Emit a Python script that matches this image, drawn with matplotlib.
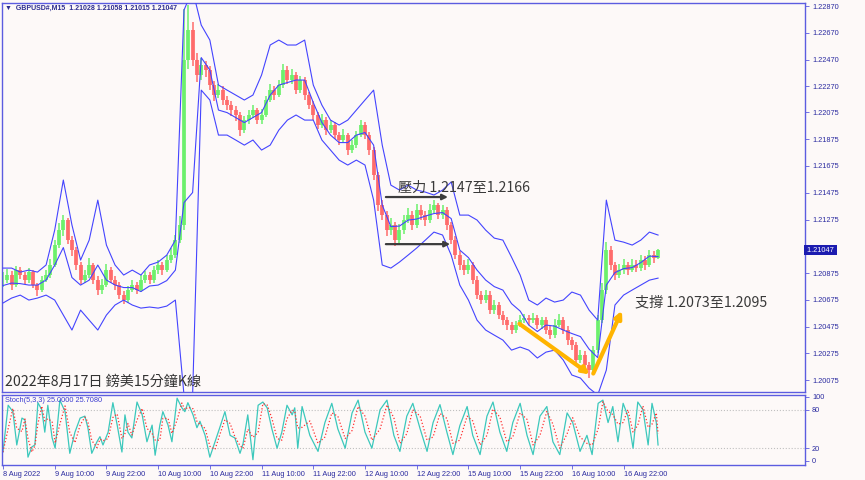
import numpy as np
import pandas as pd
import matplotlib
matplotlib.use('Agg')
import matplotlib.pyplot as plt

plt.rcParams['font.family'] = ['Noto Sans CJK TC', 'DejaVu Sans']

# hourly bars, GBPUSD M15 chart, x = trading hours since 8 Aug 22:00
closes = [1.20822, 1.20860, 1.20785, 1.20897, 1.20860, 1.20822, 1.20882, 1.20785, 1.20748, 1.20822,
          1.20860, 1.20935, 1.21084, 1.21196, 1.21271, 1.21121, 1.21047, 1.20935, 1.20822, 1.20860,
          1.20935, 1.20822, 1.20748, 1.20785, 1.20897, 1.20822, 1.20785, 1.20710, 1.20673, 1.20748,
          1.20785, 1.20748, 1.20822, 1.20860, 1.20822, 1.20897, 1.20935, 1.20897, 1.20972, 1.21009,
          1.21121, 1.21234, 1.22467, 1.22691, 1.22467, 1.22355, 1.22429, 1.22392, 1.22280, 1.22205,
          1.22242, 1.22168, 1.22130, 1.22093, 1.22056, 1.21943, 1.22018, 1.22056, 1.22093, 1.22018,
          1.22056, 1.22168, 1.22242, 1.22205, 1.22280, 1.22392, 1.22317, 1.22355, 1.22242, 1.22317,
          1.22205, 1.22130, 1.22056, 1.21981, 1.22018, 1.21943, 1.21981, 1.21906, 1.21869, 1.21906,
          1.21794, 1.21831, 1.21906, 1.21981, 1.21906, 1.21794, 1.21607, 1.21383, 1.21308, 1.21196,
          1.21234, 1.21121, 1.21196, 1.21271, 1.21308, 1.21234, 1.21346, 1.21308, 1.21271, 1.21346,
          1.21383, 1.21308, 1.21346, 1.21234, 1.21121, 1.21009, 1.20935, 1.20897, 1.20935, 1.20822,
          1.20710, 1.20673, 1.20710, 1.20598, 1.20636, 1.20561, 1.20523, 1.20486, 1.20449, 1.20486,
          1.20523, 1.20538, 1.20523, 1.20538, 1.20486, 1.20523, 1.20449, 1.20411, 1.20486, 1.20523,
          1.20449, 1.20374, 1.20337, 1.20225, 1.20262, 1.20187, 1.20150, 1.20299, 1.20523, 1.20748,
          1.21047, 1.20935, 1.20860, 1.20897, 1.20935, 1.20897, 1.20935, 1.20912, 1.20972, 1.20935,
          1.21009, 1.20987, 1.21047]
highs = [1.20880, 1.20905, 1.20890, 1.20930, 1.20920, 1.20880, 1.20910, 1.20900, 1.20800, 1.20850,
         1.20900, 1.20980, 1.21120, 1.21250, 1.21310, 1.21290, 1.21150, 1.21070, 1.20960, 1.20900,
         1.20990, 1.20950, 1.20850, 1.20830, 1.20940, 1.20920, 1.20850, 1.20810, 1.20740, 1.20780,
         1.20820, 1.20810, 1.20860, 1.20890, 1.20880, 1.20930, 1.20970, 1.20960, 1.21010, 1.21060,
         1.21160, 1.21300, 1.22850, 1.22880, 1.22750, 1.22520, 1.22480, 1.22460, 1.22420, 1.22310,
         1.22290, 1.22270, 1.22200, 1.22160, 1.22120, 1.22080, 1.22050, 1.22090, 1.22130, 1.22110,
         1.22100, 1.22200, 1.22290, 1.22270, 1.22320, 1.22440, 1.22420, 1.22400, 1.22380, 1.22350,
         1.22340, 1.22230, 1.22160, 1.22080, 1.22060, 1.22040, 1.22020, 1.22000, 1.21930, 1.21950,
         1.21920, 1.21870, 1.21940, 1.22020, 1.22000, 1.21930, 1.21820, 1.21630, 1.21420, 1.21340,
         1.21290, 1.21260, 1.21240, 1.21310, 1.21360, 1.21340, 1.21390, 1.21380, 1.21340, 1.21390,
         1.21420, 1.21400, 1.21380, 1.21370, 1.21260, 1.21150, 1.21040, 1.20970, 1.20980, 1.20960,
         1.20850, 1.20740, 1.20750, 1.20740, 1.20670, 1.20660, 1.20590, 1.20550, 1.20510, 1.20520,
         1.20560, 1.20570, 1.20560, 1.20580, 1.20560, 1.20550, 1.20550, 1.20480, 1.20530, 1.20570,
         1.20550, 1.20480, 1.20400, 1.20360, 1.20300, 1.20290, 1.20210, 1.20330, 1.20560, 1.20800,
         1.21110, 1.21080, 1.20960, 1.20940, 1.20980, 1.20960, 1.20980, 1.20970, 1.21010, 1.21000,
         1.21050, 1.21040, 1.21058]
lows = [1.20770, 1.20800, 1.20750, 1.20770, 1.20830, 1.20790, 1.20800, 1.20760, 1.20700, 1.20730,
        1.20810, 1.20840, 1.20920, 1.21060, 1.21150, 1.21090, 1.21000, 1.20900, 1.20790, 1.20800,
        1.20840, 1.20790, 1.20710, 1.20720, 1.20770, 1.20800, 1.20750, 1.20680, 1.20640, 1.20650,
        1.20730, 1.20720, 1.20730, 1.20800, 1.20790, 1.20800, 1.20870, 1.20860, 1.20880, 1.20950,
        1.20990, 1.21100, 1.21200, 1.22400, 1.22420, 1.22300, 1.22320, 1.22340, 1.22240, 1.22160,
        1.22180, 1.22130, 1.22090, 1.22050, 1.22010, 1.21900, 1.21920, 1.21990, 1.22030, 1.21990,
        1.21990, 1.22040, 1.22150, 1.22170, 1.22190, 1.22260, 1.22290, 1.22290, 1.22210, 1.22220,
        1.22170, 1.22100, 1.22020, 1.21950, 1.21960, 1.21910, 1.21920, 1.21880, 1.21830, 1.21850,
        1.21760, 1.21770, 1.21810, 1.21890, 1.21880, 1.21760, 1.21570, 1.21340, 1.21270, 1.21150,
        1.21160, 1.21080, 1.21100, 1.21170, 1.21250, 1.21200, 1.21210, 1.21270, 1.21230, 1.21250,
        1.21320, 1.21280, 1.21280, 1.21200, 1.21090, 1.20980, 1.20900, 1.20860, 1.20870, 1.20790,
        1.20680, 1.20640, 1.20650, 1.20570, 1.20570, 1.20530, 1.20490, 1.20450, 1.20420, 1.20430,
        1.20470, 1.20500, 1.20490, 1.20500, 1.20460, 1.20460, 1.20420, 1.20380, 1.20390, 1.20470,
        1.20420, 1.20340, 1.20300, 1.20190, 1.20200, 1.20150, 1.20090, 1.20120, 1.20280, 1.20500,
        1.20720, 1.20900, 1.20820, 1.20840, 1.20870, 1.20860, 1.20880, 1.20880, 1.20890, 1.20900,
        1.20920, 1.20950, 1.20980]

band_hours = list(range(0, 153, 2))
upper = [1.20912, 1.20912, 1.20882, 1.20897, 1.20882, 1.20935, 1.21196, 1.21570, 1.21234, 1.20972,
         1.21121, 1.21420, 1.21084, 1.20935, 1.20860, 1.20897, 1.20860, 1.20935, 1.20957, 1.21009,
         1.21121, 1.22840, 1.22990, 1.22728, 1.22616, 1.22280, 1.22242, 1.22205, 1.22168, 1.22205,
         1.22355, 1.22579, 1.22616, 1.22579, 1.22579, 1.22616, 1.22280, 1.22130, 1.22018, 1.21981,
         1.22018, 1.22093, 1.22168, 1.22242, 1.21831, 1.21532, 1.21495, 1.21532, 1.21495, 1.21480,
         1.21458, 1.21495, 1.21555, 1.21308, 1.21308, 1.21271, 1.21196, 1.21136, 1.21121, 1.20994,
         1.20860, 1.20673, 1.20636, 1.20688, 1.20658, 1.20673, 1.20733, 1.20710, 1.20598, 1.20523,
         1.21420, 1.21121, 1.21106, 1.21084, 1.21121, 1.21181, 1.21159]
lower = [1.20651, 1.20688, 1.20710, 1.20673, 1.20688, 1.20710, 1.20673, 1.20561, 1.20449, 1.20598,
         1.20523, 1.20449, 1.20561, 1.20636, 1.20673, 1.20636, 1.20613, 1.20621, 1.20613, 1.20628,
         1.20673, 1.19963, 1.19963, 1.22242, 1.22168, 1.21906, 1.21906, 1.21869, 1.21831, 1.21869,
         1.21794, 1.21831, 1.21943, 1.22018, 1.22056, 1.22018, 1.22018, 1.21869, 1.21794, 1.21719,
         1.21682, 1.21719, 1.21682, 1.21420, 1.20935, 1.20912, 1.20957, 1.21009, 1.21062, 1.21121,
         1.21181, 1.21159, 1.21009, 1.20785, 1.20673, 1.20523, 1.20449, 1.20411, 1.20374, 1.20299,
         1.20322, 1.20299, 1.20240, 1.20284, 1.20299, 1.20225, 1.20113, 1.20090, 1.20015, 1.19963,
         1.20150, 1.20636, 1.20710, 1.20748, 1.20785, 1.20822, 1.20837]

stoch_hours = [0, 1.2, 2.3, 3.2, 4.4, 5.1, 5.8, 6.7, 7.4, 8.1, 9.0, 9.7, 10.4, 11.4, 12.1, 13.2, 14.4,
               15.5, 16.7, 17.9, 19.0, 19.7, 20.6, 21.8, 22.5, 23.2, 24.4, 25.5, 26.5, 27.6, 28.3,
               29.0, 29.9, 31.1, 32.3, 33.4, 34.6, 35.3, 36.4, 37.1, 38.3, 39.2, 40.4, 41.5, 42.2,
               42.9, 44.1, 45.0, 45.7, 46.9, 48.0, 49.2, 50.3, 51.5, 52.7, 53.8, 55.0, 55.7, 56.8,
               58.0, 59.2, 60.3, 61.3, 62.4, 63.6, 64.7, 65.9, 67.1, 67.7, 68.4,
               69.4, 71.2, 73.1, 74.7, 76.3, 77.7, 79.4, 81.0, 82.4, 84.0, 85.6, 87.5, 89.1, 90.7,
               92.1, 93.7, 95.1, 96.8, 98.4, 99.8, 101.4, 103.0, 104.4, 106.0, 107.7, 109.0, 110.7,
               112.3, 113.7, 115.3, 116.9, 118.3, 120.0, 121.6, 123.0, 124.6, 126.2, 127.6, 129.2,
               130.9, 132.2, 133.9, 135.5, 136.7, 138.1, 139.2, 140.4, 141.5, 142.7, 143.9, 145.0,
               146.2, 147.3, 148.5, 149.7, 150.6, 151.6, 152.0]
stoch_k = [14, 87, 77, 25, 67, 64, 6, 22, 25, 91, 80, 45, 87, 36, 20, 95, 77,
           12, 45, 67, 70, 52, 12, 30, 38, 25, 45, 91, 56, 14, 72,
           45, 36, 92, 72, 30, 56, 9, 56, 77, 56, 30, 98, 83, 77,
           91, 72, 52, 62, 40, 6, 30, 52, 77, 40, 36, 12, 27, 72,
           2, 87, 92, 83, 50, 20, 45, 87, 72, 83, 20,
           85, 40, 15, 60, 90, 50, 20, 75, 95, 45, 20, 80, 95, 40,
           15, 70, 90, 50, 15, 60, 88, 45, 10, 55, 85, 40, 10,
           70, 92, 45, 15, 60, 90, 40, 10, 70, 85, 30, 10,
           75, 60, 15, 40, 10, 90, 95, 60, 85, 30, 90, 70,
           20, 92, 80, 25, 90, 60, 25]

price_ticks = [1.22870, 1.22670, 1.22470, 1.22270, 1.22075, 1.21875, 1.21675, 1.21475,
               1.21275, 1.21075, 1.20875, 1.20675, 1.20475, 1.20275, 1.20075]
time_ticks = [0, 12, 24, 36, 48, 60, 72, 84, 96, 108, 120, 132, 144]
time_labels = ['8 Aug 2022', '9 Aug 10:00', '9 Aug 22:00', '10 Aug 10:00', '10 Aug 22:00',
               '11 Aug 10:00', '11 Aug 22:00', '12 Aug 10:00', '12 Aug 22:00', '15 Aug 10:00',
               '15 Aug 22:00', '16 Aug 10:00', '16 Aug 22:00']

# hand drawn lines on the chart
resist_hours = [88.2, 103.9]
resist_prices = [1.21443, 1.21091]
support_hours = [119.3, 136.7, 143.9]
support_prices = [1.20508, 1.20105, 1.20613]

bg = '#fdf9f8'
axcol = '#5c5ce0'
txtcol = '#2b2ba0'
small = dict(family='Liberation Sans', fontsize=5.3, color=txtcol)

fig = plt.figure(figsize=(8.65, 4.8), dpi=100, facecolor=bg)
ax = fig.add_axes([2 / 865, 88 / 480, 803 / 865, 389 / 480], facecolor=bg)
ax2 = fig.add_axes([2 / 865, 15 / 480, 803 / 865, 70 / 480], facecolor=bg, sharex=ax)

# candles
hrs = np.arange(len(closes))
c = np.array(closes)
o = np.r_[c[0], c[:-1]]
cols = np.where(c >= o, '#6cf06c', '#ff6b6b')
ax.vlines(hrs, lows, highs, colors=cols, lw=1.1, zorder=2)
ax.vlines(hrs, np.minimum(o, c), np.maximum(o, c), colors=cols, lw=2.7, zorder=2)

# bollinger bands
up = np.array(upper)
lo = np.array(lower)
mid = (up + lo) / 2
for s in (up, mid, lo):
    ax.plot(band_hours, s, color='#4444ff', lw=0.8, zorder=3)

ax.annotate('', xy=(resist_hours[1], resist_prices[0]), xytext=(resist_hours[0], resist_prices[0]),
            arrowprops=dict(arrowstyle='-|>', color='#3c3c3c', lw=1.6, mutation_scale=8), zorder=5)
ax.annotate('', xy=(resist_hours[1] + 0.5, resist_prices[1]), xytext=(resist_hours[0], resist_prices[1]),
            arrowprops=dict(arrowstyle='-|>', color='#3c3c3c', lw=1.6, mutation_scale=8), zorder=5)
ax.annotate('', xy=(support_hours[1], support_prices[1]), xytext=(support_hours[0], support_prices[0]),
            arrowprops=dict(arrowstyle='-|>', color='#ffb400', lw=3, mutation_scale=10), zorder=5)
ax.annotate('', xy=(support_hours[2], support_prices[2]), xytext=(support_hours[1], support_prices[1]),
            arrowprops=dict(arrowstyle='-|>', color='#ffb400', lw=3, mutation_scale=10), zorder=5)

ax.text(91.6, 1.21510, '壓力 1.2147至1.2166', fontsize=10.2, color='#3a3a3a', va='center')
ax.text(146.6, 1.20658, '支撐 1.2073至1.2095', fontsize=10.2, color='#3a3a3a', va='center')

ax.set_xlim(-0.23, 186.1)
ax.set_ylim(1.19986, 1.22893)
ax.yaxis.tick_right()
ax.set_yticks(price_ticks)
ax.set_yticklabels(['' if p == 1.21075 else '%.5f' % p for p in price_ticks], **small)
ax.tick_params(axis='y', length=3, width=0.6, color=axcol, pad=2)
ax.tick_params(axis='x', bottom=False, labelbottom=False)
for sp in ax.spines.values():
    sp.set_color(axcol)
    sp.set_linewidth(1.0)

ax.text(1.0, closes[-1], ' 1.21047 ', transform=ax.get_yaxis_transform(), ha='left', va='center',
        family='Liberation Sans', fontsize=5.3, color='white',
        bbox=dict(boxstyle='square,pad=0.15', fc='#1c1cb0', ec='none'), zorder=10, clip_on=False)

# stochastic
k = pd.Series(stoch_k, index=stoch_hours)
d = k.rolling(2, min_periods=1).mean()
ax2.axhline(80, color='#c0c0c0', ls=':', lw=0.8)
ax2.axhline(20, color='#c0c0c0', ls=':', lw=0.8)
ax2.plot(k.index, k.values, color='#3cc8bc', lw=0.9)
ax2.plot(d.index, d.values, color='#ff3030', ls=':', lw=0.9)
ax2.set_ylim(-6.25, 103)
ax2.yaxis.tick_right()
ax2.set_yticks([100, 80, 20, 0])
ax2.set_yticklabels(['100', '80', '20', '0'], **small)
ax2.tick_params(axis='y', length=3, width=0.6, color=axcol, pad=2)
ax2.set_xticks(time_ticks)
ax2.set_xticklabels(time_labels, ha='left', **small)
ax2.tick_params(axis='x', length=3, width=0.6, color=axcol, pad=1)
for sp in ax2.spines.values():
    sp.set_color(axcol)
    sp.set_linewidth(1.0)

fig.text(5 / 865, 1 - 8 / 480, '\u25bc  GBPUSD#,M15  1.21028 1.21058 1.21015 1.21047', va='center',
         family='Liberation Sans', fontsize=5.0, color='#2b2b90', fontweight='bold')
fig.text(5 / 865, 1 - 400 / 480, 'Stoch(5,3,3) 25.0000 25.7080', va='center',
         family='Liberation Sans', fontsize=5.3, color='#3b3bd0')
fig.text(5 / 865, 1 - 382 / 480, '2022年8月17日 鎊美15分鐘K線', va='center', fontsize=10.2, color='#333333')

fig.savefig('out.png', dpi=100, facecolor=bg)
